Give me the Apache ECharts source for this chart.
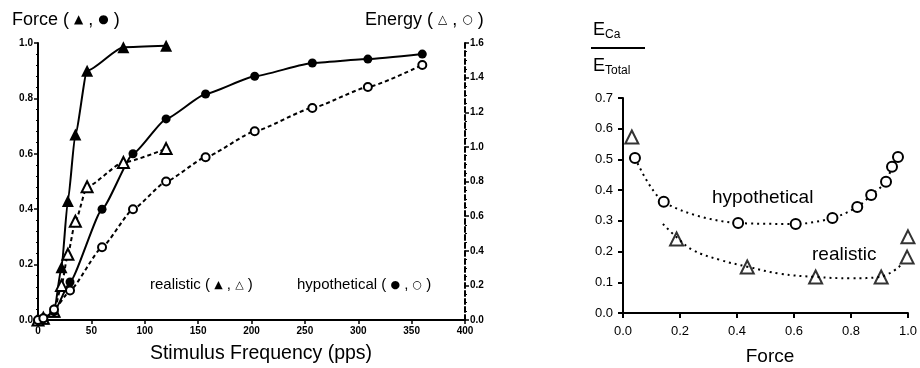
<!DOCTYPE html>
<html>
<head>
<meta charset="utf-8">
<script src="https://cdn.jsdelivr.net/npm/echarts@6/dist/echarts.min.js"></script>
<style>
  html, body { margin: 0; padding: 0; background: #fff; }
  #chart { width: 920px; height: 368px; }
</style>
</head>
<body>
<div id="chart"></div>
<script>
// left panel: stimulus frequency (pps)
const freqReal = [0, 5, 15, 22, 28, 35, 46, 80, 120];
const forceReal = [0, 0.005, 0.03, 0.19, 0.43, 0.67, 0.90, 0.985, 0.99];
const energyReal = [0, 0.01, 0.05, 0.2, 0.38, 0.57, 0.77, 0.91, 0.99];

const freqHypo = [0, 5, 15, 30, 60, 89, 120, 157, 203, 257, 309, 360];
const forceHypo = [0, 0.005, 0.03, 0.137, 0.40, 0.60, 0.726, 0.816, 0.88, 0.928, 0.942, 0.96];
const energyHypo = [0, 0.01, 0.06, 0.17, 0.42, 0.64, 0.80, 0.94, 1.09, 1.225, 1.346, 1.473];

// right panel: E_Ca / E_Total vs force
const ratioForceHypo = [0.042, 0.143, 0.404, 0.606, 0.735, 0.822, 0.871, 0.923, 0.944, 0.965];
const ratioHypo = [0.505, 0.362, 0.293, 0.29, 0.309, 0.345, 0.384, 0.427, 0.476, 0.508];
const ratioForceReal = [0.031, 0.188, 0.436, 0.676, 0.906, 0.997, 1.0];
const ratioReal = [0.573, 0.241, 0.15, 0.117, 0.117, 0.182, 0.248];
// dotted fit through the realistic points
const fitForceReal = [0.14, 0.19, 0.245, 0.34, 0.44, 0.55, 0.68, 0.8, 0.9, 0.975];
const fitRatioReal = [0.29, 0.245, 0.205, 0.173, 0.15, 0.128, 0.117, 0.113, 0.117, 0.155];

const zip = (xs, ys) => xs.map((x, i) => [x, ys[i]]);

const FONT = "'Liberation Sans', Arial, sans-serif";
const black = '#000';

const chart = echarts.init(document.getElementById('chart'));

const axisCommon = {
  axisLine: { lineStyle: { color: black, width: 2 } },
  axisTick: { length: 4, lineStyle: { color: black, width: 1.5 } },
  splitLine: { show: false },
};
const symRich = size => ({ s: { fontSize: size, fontFamily: 'DejaVu Sans' } });

chart.setOption({
  animation: false,
  backgroundColor: '#fff',
  grid: [
    { left: 38, right: 455, top: 43, bottom: 48 },
    { left: 623, right: 10, top: 98, bottom: 55 }
  ],
  xAxis: [
    {
      gridIndex: 0, type: 'value', min: 0, max: 400, interval: 50,
      ...axisCommon,
      axisLabel: { color: black, fontSize: 10, fontWeight: 'bold', fontFamily: FONT, margin: 6 }
    },
    {
      gridIndex: 1, type: 'value', min: 0, max: 1, interval: 0.2,
      ...axisCommon,
      axisTick: { length: 5, lineStyle: { color: black, width: 2 } },
      axisLabel: { color: black, fontSize: 13, fontFamily: FONT, margin: 12, formatter: v => v.toFixed(1) }
    }
  ],
  yAxis: [
    {
      gridIndex: 0, type: 'value', min: 0, max: 1, interval: 0.2,
      ...axisCommon,
      minorTick: { show: true, splitNumber: 5, length: 2, lineStyle: { color: black } },
      axisLabel: { color: black, fontSize: 10, fontWeight: 'bold', fontFamily: FONT, margin: 5, formatter: v => v.toFixed(1) }
    },
    {
      gridIndex: 0, type: 'value', min: 0, max: 1.6, interval: 0.2, position: 'right',
      axisLine: { lineStyle: { color: black, width: 2, type: [5, 3] } },
      axisTick: { length: 4, lineStyle: { color: black, width: 1.5 } },
      minorTick: { show: true, splitNumber: 4, length: 2, lineStyle: { color: black } },
      splitLine: { show: false },
      axisLabel: { color: black, fontSize: 10, fontWeight: 'bold', fontFamily: FONT, margin: 5, formatter: v => v.toFixed(1) }
    },
    {
      gridIndex: 1, type: 'value', min: 0, max: 0.7, interval: 0.1,
      ...axisCommon,
      axisTick: { length: 5, lineStyle: { color: black, width: 2 } },
      axisLabel: { color: black, fontSize: 13, fontFamily: FONT, margin: 10, formatter: v => v.toFixed(1) }
    }
  ],
  series: [
    {
      name: 'force realistic', type: 'line', xAxisIndex: 0, yAxisIndex: 0,
      data: zip(freqReal, forceReal), smooth: 0.2, smoothMonotone: 'x',
      symbol: 'triangle', symbolSize: 12,
      itemStyle: { color: black },
      lineStyle: { color: black, width: 2 }
    },
    {
      name: 'energy realistic', type: 'line', xAxisIndex: 0, yAxisIndex: 1,
      data: zip(freqReal, energyReal), smooth: 0.2, smoothMonotone: 'x',
      symbol: 'emptyTriangle', symbolSize: 11,
      itemStyle: { color: black, borderColor: black, borderWidth: 1.5 },
      lineStyle: { color: black, width: 2, type: [4, 3] }
    },
    {
      name: 'force hypothetical', type: 'line', xAxisIndex: 0, yAxisIndex: 0,
      data: zip(freqHypo, forceHypo), smooth: 0.15, smoothMonotone: 'x',
      symbol: 'circle', symbolSize: 9,
      itemStyle: { color: black },
      lineStyle: { color: black, width: 2 }
    },
    {
      name: 'energy hypothetical', type: 'line', xAxisIndex: 0, yAxisIndex: 1,
      data: zip(freqHypo, energyHypo), smooth: 0.15, smoothMonotone: 'x',
      symbol: 'emptyCircle', symbolSize: 8,
      itemStyle: { color: black, borderColor: black, borderWidth: 1.5 },
      lineStyle: { color: black, width: 2, type: [4, 3] }
    },
    {
      name: 'ratio hypothetical', type: 'line', xAxisIndex: 1, yAxisIndex: 2,
      data: zip(ratioForceHypo, ratioHypo), smooth: 0.3,
      symbol: 'emptyCircle', symbolSize: 10,
      itemStyle: { color: black, borderColor: black, borderWidth: 1.5 },
      lineStyle: { color: black, width: 2, type: [2, 4] }
    },
    {
      name: 'ratio realistic fit', type: 'line', xAxisIndex: 1, yAxisIndex: 2,
      data: zip(fitForceReal, fitRatioReal), smooth: 0.4, showSymbol: false,
      lineStyle: { color: black, width: 2, type: [2, 4] }
    },
    {
      name: 'ratio realistic', type: 'scatter', xAxisIndex: 1, yAxisIndex: 2,
      data: zip(ratioForceReal, ratioReal),
      symbol: 'emptyTriangle', symbolSize: 13,
      itemStyle: { color: black, borderColor: black, borderWidth: 1.8 }
    }
  ],
  graphic: [
    {
      type: 'text', left: 12, top: 11,
      style: {
        text: 'Force ( {s|▲} , {s|●} )', fontSize: 18, fontFamily: FONT, fill: black,
        rich: symRich(12)
      }
    },
    {
      type: 'text', left: 365, top: 11,
      style: {
        text: 'Energy ( {s|△} , {s|○} )', fontSize: 18, fontFamily: FONT, fill: black,
        rich: symRich(12)
      }
    },
    {
      type: 'text', x: 261, y: 354,
      style: {
        text: 'Stimulus Frequency (pps)', fontSize: 19.5, fontFamily: FONT, fill: black,
        align: 'center', verticalAlign: 'middle'
      }
    },
    {
      type: 'text', x: 150, y: 285,
      style: {
        text: 'realistic ( {s|▲} , {s|△} )', fontSize: 15, fontFamily: FONT, fill: black,
        verticalAlign: 'middle', rich: symRich(11)
      }
    },
    {
      type: 'text', x: 297, y: 285,
      style: {
        text: 'hypothetical ( {s|●} , {s|○} )', fontSize: 15, fontFamily: FONT, fill: black,
        verticalAlign: 'middle', rich: symRich(11)
      }
    },
    // right panel labels
    {
      type: 'text', x: 593, y: 30,
      style: {
        text: 'E{sub|Ca}', fontSize: 18, fontFamily: FONT, fill: black, verticalAlign: 'middle',
        rich: { sub: { fontSize: 12, fontFamily: FONT, padding: [10, 0, 0, 0] } }
      }
    },
    {
      type: 'line', shape: { x1: 591, y1: 48, x2: 645, y2: 48 },
      style: { stroke: black, lineWidth: 2 }
    },
    {
      type: 'text', x: 593, y: 66,
      style: {
        text: 'E{sub|Total}', fontSize: 18, fontFamily: FONT, fill: black, verticalAlign: 'middle',
        rich: { sub: { fontSize: 12, fontFamily: FONT, padding: [10, 0, 0, 0] } }
      }
    },
    {
      type: 'text', x: 712, y: 198,
      style: { text: 'hypothetical', fontSize: 19, fontFamily: FONT, fill: black, verticalAlign: 'middle' }
    },
    {
      type: 'text', x: 812, y: 255,
      style: { text: 'realistic', fontSize: 19, fontFamily: FONT, fill: black, verticalAlign: 'middle' }
    },
    {
      type: 'text', x: 770, y: 357,
      style: { text: 'Force', fontSize: 19, fontFamily: FONT, fill: black, align: 'center', verticalAlign: 'middle' }
    }
  ]
});
</script>
</body>
</html>
